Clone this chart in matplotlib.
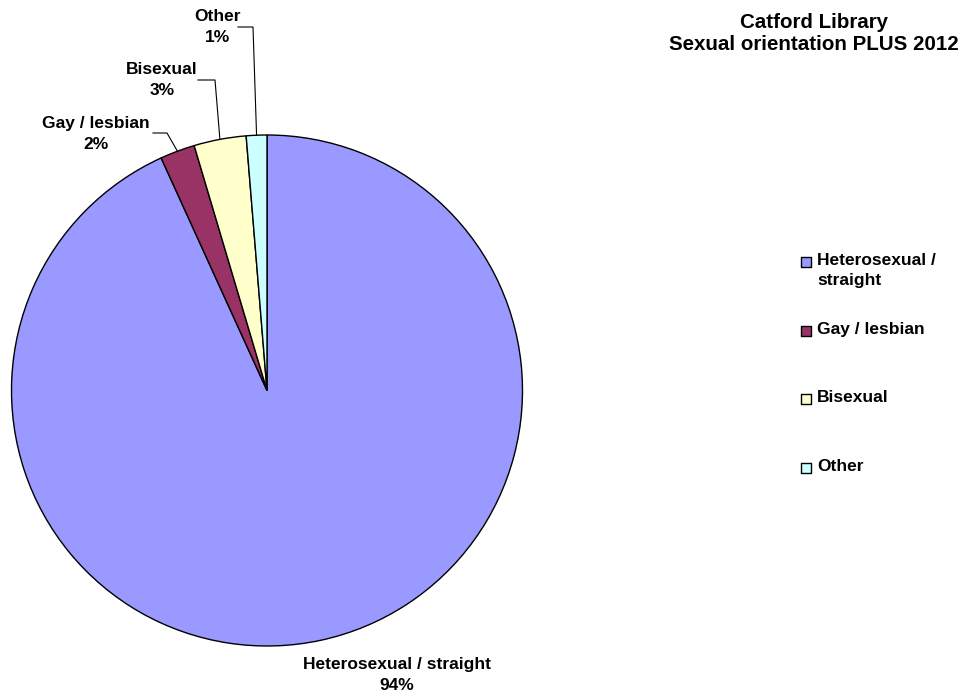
import numpy as np
import matplotlib.pyplot as plt

plt.rcParams['font.family'] = ['Liberation Sans', 'DejaVu Sans']
plt.rcParams['font.weight'] = 'bold'

# data
categories = ['Heterosexual / straight', 'Gay / lesbian', 'Bisexual', 'Other']
legend_labels = ['Heterosexual /\nstraight', 'Gay / lesbian', 'Bisexual', 'Other']
shares = [93.2, 2.2, 3.3, 1.3]          # slice sizes as drawn
pct_labels = ['94%', '2%', '3%', '1%']  # labels as printed on the chart
colors = ['#9999FF', '#993366', '#FFFFCC', '#CCFFFF']

W, H = 979, 695
fig = plt.figure(figsize=(W / 100, H / 100), dpi=100)
ax = fig.add_axes([0, 0, 1, 1])

cx, cy, R = 267, H - 390.5, 255.5
wedges, _ = ax.pie(shares, colors=colors, startangle=90, counterclock=False,
                   center=(cx, cy), radius=R,
                   wedgeprops=dict(edgecolor='black', linewidth=1.0))
ax.set_xlim(0, W)
ax.set_ylim(0, H)
ax.set_aspect('equal')
ax.axis('off')

# data labels (text position, elbow of leader line, line end)
label_pos = {
    'Heterosexual / straight': (397, 675, None, None),
    'Gay / lesbian': (96, 134, (167, 133), (153, 133)),
    'Bisexual': (162, 80, (215, 80), (198, 80)),
    'Other': (218, 27, (253, 27), (238, 27)),
}
for w, name, pct in zip(wedges, categories, pct_labels):
    tx, ty, elbow, end = label_pos[name]
    ax.text(tx, H - ty, f'{name}\n{pct}', ha='center', va='center',
            fontsize=12.5, fontweight='bold', linespacing=1.45)
    if elbow is not None:
        mid = np.deg2rad((w.theta1 + w.theta2) / 2)
        px, py = cx + R * np.cos(mid), cy + R * np.sin(mid)
        ax.plot([px, elbow[0], end[0]], [py, H - elbow[1], H - end[1]],
                color='black', lw=0.8)

ax.text(814, H - 33, 'Catford Library\nSexual orientation PLUS 2012',
        ha='center', va='center', fontsize=14.8, fontweight='bold', linespacing=1.2)

# legend
legend_y = [262, 331, 399, 468]
for lab, col, ly in zip(legend_labels, colors, legend_y):
    ax.scatter([806], [H - ly], marker='s', s=62, color=col,
               edgecolor='black', linewidth=1.0, zorder=3)
    ax.text(817, H - ly + 9, lab, ha='left', va='top', fontsize=12.5,
            fontweight='bold', linespacing=1.45)

fig.savefig('out.png', dpi=100)
